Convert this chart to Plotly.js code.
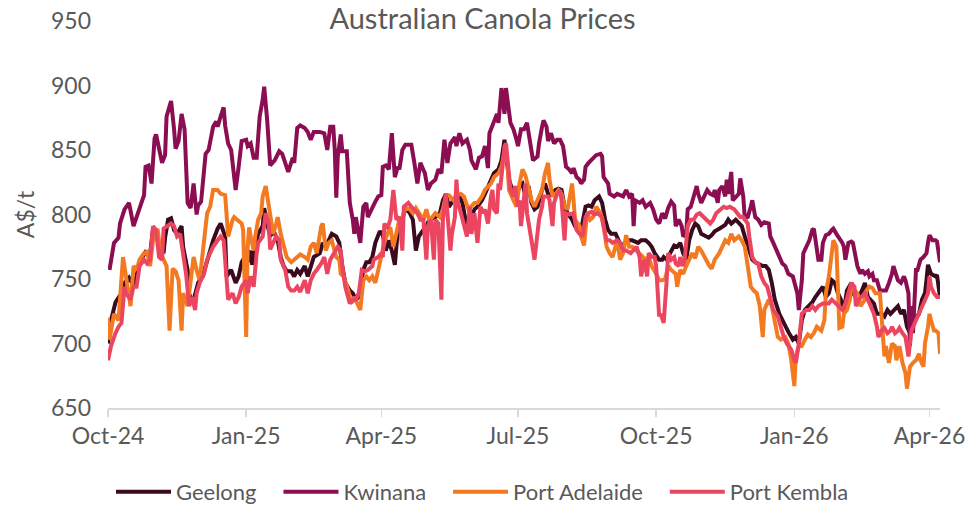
<!DOCTYPE html>
<html>
<head>
<meta charset="utf-8">
<script src="https://cdn.plot.ly/plotly-3.0.1.min.js"></script>
<style>html,body{margin:0;padding:0;background:#fff;}#chart{width:965px;height:505px;}</style>
</head>
<body>
<div id="chart"></div>
<script>
// Day offsets are days since 2024-10-01
const seriesNames = ["Geelong", "Kwinana", "Port Adelaide", "Port Kembla"];
const xTickLabels = ["Oct-24", "Jan-25", "Apr-25", "Jul-25", "Oct-25", "Jan-26", "Apr-26"];

const geelongDay = [0,2,5,7,9,11,14,17,19,21,25,28,30,33,35,37,38,40,42,44,46,49,50,53,54,56,58,60,63,65,67,70,73,75,78,79,82,85,87,89,92,93,95,96,98,100,103,104,106,108,110,113,115,117,119,122,124,126,128,131,133,135,137,141,143,145,147,149,152,154,156,158,161,163,165,167,170,172,174,176,178,181,183,185,187,189,191,193,196,198,201,203,205,207,210,212,214,216,218,221,223,225,227,230,232,234,236,238,240,242,244,246,249,251,253,255,257,260,262,264,266,267,270,272,274,276,277,280,282,284,286,289,291,293,295,298,300,302,304,306,309,311,313,315,318,320,322,324,327,329,331,333,335,338,340,342,344,346,349,351,353,355,358,360,362,364,367,369,370,372,374,377,379,381,383,385,387,389,391,393,395,398,400,402,404,407,409,411,413,415,418,420,422,424,427,429,431,433,436,438,440,442,444,447,449,451,453,456,458,460,462,464,467,469,471,473,476,478,480,482,484,486,488,490,492,495,496,498,500,502,504,506,508,510,512,515,517,519,521,524,526,528,530,532,534,535,538,540,542,544,545,546,548,551,552,554];
const geelongPrice = [700,718,732,736,739,747,751,745,752,763,771,769,789,780,775,770,782,796,797,788,785,791,775,757,739,731,738,747,752,760,770,780,789,793,783,752,757,747,752,763,769,763,772,761,775,785,791,805,793,783,788,780,767,760,756,756,752,757,754,760,752,760,767,770,778,775,780,785,783,778,760,747,741,739,734,736,757,763,763,767,778,787,784,772,780,772,761,788,796,805,801,796,772,783,788,791,796,797,798,801,811,816,806,811,814,814,809,796,791,798,804,806,811,816,822,827,832,835,842,858,840,827,816,814,822,824,819,822,809,804,806,819,824,816,815,819,820,819,806,801,796,791,788,788,806,807,806,811,814,809,796,788,785,785,780,775,778,780,780,779,778,780,780,778,775,770,765,765,767,765,770,776,775,778,770,765,780,788,793,791,785,783,782,784,787,789,791,792,796,793,796,793,791,783,772,765,763,762,760,760,757,747,734,723,718,713,709,703,705,700,718,726,729,732,736,739,744,736,739,749,747,739,734,726,741,747,739,736,736,741,747,736,734,731,723,723,721,726,723,726,729,723,726,713,708,716,720,723,734,739,749,761,754,752,753,736];

const kwinanaDay = [1,4,7,8,11,14,17,20,22,24,25,27,29,31,32,34,36,38,39,41,42,44,45,47,49,51,52,53,55,57,59,60,62,64,65,67,69,70,72,73,75,77,78,80,82,84,85,87,89,92,93,95,97,99,101,103,104,106,108,111,114,116,118,120,123,124,126,128,131,133,135,137,141,144,146,148,150,151,152,153,155,156,159,160,161,163,164,165,167,168,170,172,173,176,178,180,182,183,185,187,189,191,193,194,196,198,202,204,206,208,211,213,215,218,220,222,224,226,228,231,232,234,236,239,241,242,245,247,249,251,253,254,257,259,260,262,264,265,268,270,272,273,275,277,279,280,282,283,286,287,289,290,292,293,295,297,299,301,303,305,307,309,310,312,314,315,317,318,320,322,325,328,329,330,333,334,337,339,341,343,345,347,349,350,351,354,356,358,361,363,365,367,369,371,373,375,377,378,380,382,383,385,386,388,390,392,393,395,397,399,401,403,404,406,407,409,411,412,413,415,416,418,420,421,423,424,426,428,429,431,433,435,437,440,441,443,445,447,449,451,453,456,457,459,460,462,463,466,467,469,470,472,473,475,476,478,480,482,483,485,487,489,490,491,493,495,496,498,499,501,502,504,506,507,509,510,512,514,516,518,520,522,523,525,526,528,530,531,533,534,535,536,538,539,541,543,545,546,547,549,551,552,554];
const kwinanaPrice = [757,778,782,793,804,809,791,801,809,815,837,838,824,859,862,849,840,846,876,884,888,866,851,857,878,866,827,809,805,824,800,807,810,837,847,850,863,868,872,868,876,883,869,855,850,832,819,837,857,858,853,855,844,844,876,889,899,873,838,842,849,847,840,833,844,840,867,869,867,864,858,864,864,863,850,868,868,850,813,845,862,849,849,827,809,796,785,798,782,778,806,809,798,806,810,814,815,837,838,835,863,829,837,835,850,854,854,840,824,840,832,819,824,827,835,832,858,840,855,860,853,863,855,858,850,842,835,844,845,853,836,863,873,878,871,898,878,898,871,866,858,853,866,866,871,863,847,842,845,855,868,873,868,857,863,855,858,858,853,837,835,832,836,829,827,824,827,837,840,842,846,847,845,829,824,816,814,816,815,814,819,814,816,791,811,809,811,806,809,804,796,793,801,797,805,810,807,791,796,791,783,785,804,806,814,822,816,809,814,819,816,815,819,809,819,822,814,827,816,833,811,814,816,828,814,797,798,806,811,798,796,792,794,793,783,778,773,767,762,760,754,752,747,739,726,749,770,778,780,788,789,773,765,765,778,784,785,788,789,785,782,778,775,765,778,779,778,765,760,754,757,754,756,752,754,749,749,741,741,741,747,754,760,754,749,747,752,749,739,698,729,708,757,757,765,767,770,778,784,780,780,779,763];

const adelaideDay = [0,1,4,7,10,12,15,17,19,21,24,26,28,30,33,35,37,39,41,43,45,47,49,50,53,55,57,59,61,64,66,68,70,73,75,78,79,80,83,84,86,89,90,92,93,94,95,97,98,100,102,103,105,107,108,110,112,113,115,117,119,122,124,126,128,131,133,135,137,139,142,143,145,147,149,152,154,155,157,160,162,164,166,168,170,172,174,176,178,180,182,184,186,188,190,192,194,196,198,201,203,205,207,210,212,214,216,218,221,223,225,227,230,232,235,237,240,242,244,246,249,251,253,255,257,260,262,264,266,267,270,272,274,276,278,280,282,284,286,289,291,293,294,296,298,300,302,304,306,309,310,311,314,315,317,319,321,323,325,328,330,332,334,336,339,341,343,345,347,349,351,354,356,358,360,362,365,367,369,371,373,375,378,379,381,383,385,387,389,391,393,395,398,400,402,404,407,409,411,413,415,417,420,422,424,426,428,430,432,434,436,437,440,442,444,446,448,451,453,455,457,458,460,462,464,466,468,470,472,475,477,478,480,482,483,485,486,487,489,490,492,494,495,497,499,501,504,505,507,509,511,514,516,517,518,520,522,524,525,527,529,531,532,534,536,538,540,541,543,544,546,547,548,550,551,553,554];
const adelaidePrice = [720,703,723,718,767,752,729,760,757,765,770,771,760,780,789,770,765,760,710,758,756,749,710,739,729,749,767,757,749,780,801,806,819,819,816,815,796,783,796,798,796,793,788,705,775,790,783,772,783,796,801,814,822,806,796,785,793,798,785,775,767,763,765,767,769,767,765,775,778,770,791,793,772,778,780,767,765,754,752,741,731,736,731,726,749,752,749,752,747,757,770,778,785,790,775,785,796,798,805,804,801,805,801,796,804,795,798,801,798,804,815,815,811,815,816,814,804,806,809,809,814,819,822,824,829,832,837,849,840,819,811,806,824,835,830,819,811,806,811,819,832,840,827,814,816,819,816,806,804,824,811,796,791,783,776,801,796,798,806,801,791,775,770,767,780,765,770,784,775,775,773,770,767,765,767,760,754,749,749,750,760,757,754,744,757,754,760,765,770,766,775,772,765,761,758,765,770,775,780,778,785,780,783,780,775,760,744,741,739,729,705,726,734,729,718,705,703,705,700,687,667,690,698,698,703,707,705,708,713,710,718,739,752,775,780,775,749,712,713,723,726,734,744,741,739,729,734,741,744,743,739,739,708,690,698,685,700,698,687,698,685,677,665,682,685,687,692,687,682,700,713,723,718,710,710,708,692];

const kemblaDay = [0,2,5,7,9,11,12,15,17,19,21,24,26,28,30,32,34,36,37,39,42,44,46,48,50,52,54,56,58,59,61,64,66,68,70,73,75,77,79,80,83,85,87,89,92,93,95,97,99,100,103,105,107,108,110,112,114,115,118,120,122,124,126,128,131,133,135,137,139,142,144,146,148,151,153,155,156,158,161,163,165,167,169,171,173,176,177,180,182,183,184,186,188,190,192,194,196,197,200,202,204,206,208,210,212,213,215,217,218,220,222,223,225,226,228,229,231,232,233,235,237,239,241,242,244,246,248,250,251,253,255,256,257,259,260,261,262,264,265,266,268,270,271,273,274,275,277,278,279,281,282,284,285,287,289,290,293,294,296,297,299,301,302,304,305,307,310,312,314,316,318,320,322,324,326,329,330,332,334,336,339,341,343,345,348,350,352,354,355,357,359,360,362,364,365,367,368,370,371,372,373,375,377,378,380,381,383,384,386,388,390,392,394,397,399,401,403,405,408,410,412,414,417,419,421,423,426,427,429,431,433,435,437,439,441,443,446,448,450,452,453,455,457,458,460,461,462,465,467,469,471,473,476,478,480,482,485,487,489,491,493,495,497,498,500,502,504,506,508,510,512,513,515,517,519,521,522,524,526,527,529,531,533,534,535,538,540,542,544,546,547,548,550,552,554];
const kemblaPrice = [687,698,708,713,716,744,739,734,744,744,760,765,762,765,791,788,767,765,789,791,793,791,783,785,770,754,729,736,726,739,747,754,765,770,775,780,783,780,754,734,739,731,736,744,749,739,752,744,770,778,783,801,793,773,778,783,780,765,757,744,741,741,744,740,749,739,749,754,757,762,767,754,765,772,775,772,760,744,731,734,734,739,757,756,757,760,765,767,770,767,793,789,796,819,796,798,772,806,809,806,804,801,796,796,765,791,796,765,796,793,734,796,816,801,772,785,798,827,809,801,791,783,806,785,801,778,806,801,804,793,814,819,804,801,824,819,829,853,855,840,819,814,822,806,811,791,819,824,801,783,780,765,775,796,806,814,814,811,791,809,816,819,811,780,801,800,801,788,785,783,798,801,802,800,801,798,791,780,780,778,780,778,772,772,770,772,775,767,752,765,752,770,767,767,760,721,723,716,730,749,770,765,767,762,760,767,760,765,791,796,796,800,801,798,796,793,796,801,804,806,805,806,804,801,798,798,793,783,767,763,762,752,747,744,736,726,721,713,705,700,698,695,687,685,700,713,723,726,726,729,726,729,731,731,731,734,731,729,726,731,739,747,744,729,734,736,739,734,729,723,713,705,710,712,708,710,713,708,710,712,708,705,690,698,710,718,723,729,734,739,752,744,739,736,736];

const seriesColors = ["#3a0a1e", "#8b0d52", "#f47a22", "#ec4560"];

function toDate(d) {
  const t = new Date(Date.UTC(2024, 9, 1));
  t.setUTCDate(t.getUTCDate() + d);
  return t.toISOString().slice(0, 10);
}

const dayArrays = [geelongDay, kwinanaDay, adelaideDay, kemblaDay];
const priceArrays = [geelongPrice, kwinanaPrice, adelaidePrice, kemblaPrice];
const legendPad = "\u00a0\u00a0\u00a0";

const traces = seriesNames.map((name, i) => ({
  type: "scatter",
  mode: "lines",
  name: i < seriesNames.length - 1 ? name + legendPad : name,
  x: dayArrays[i].map(toDate),
  y: priceArrays[i],
  line: { color: seriesColors[i], width: 4 },
  hoverinfo: "x+y+name"
}));

const tickVals = ["2024-10-01", "2025-01-01", "2025-04-01", "2025-07-01", "2025-10-01", "2026-01-01", "2026-04-01"];

const fontFamily = "Lato, 'Open Sans', sans-serif";
const grey = "#595959";

const layout = {
  width: 965,
  height: 505,
  paper_bgcolor: "#ffffff",
  plot_bgcolor: "#ffffff",
  margin: { l: 108, r: 25, t: 21, b: 97 },
  font: { family: fontFamily, color: grey, size: 23 },
  title: {
    text: "Australian Canola Prices",
    font: { family: fontFamily, size: 29, color: grey },
    x: 0.5, xref: "container", xanchor: "center",
    y: 0.962, yref: "container", yanchor: "middle"
  },
  xaxis: {
    type: "date",
    range: ["2024-10-01", "2026-04-08"],
    tickvals: tickVals,
    ticktext: xTickLabels,
    showgrid: false,
    zeroline: false,
    showline: true,
    linecolor: "#d9d9d9",
    linewidth: 1.5,
    ticks: "outside",
    ticklen: 7,
    tickcolor: "#d9d9d9",
    tickwidth: 1.5,
    ticklabeloverflow: "allow",
    tickfont: { size: 23, color: grey, family: fontFamily },
    fixedrange: true
  },
  yaxis: {
    range: [650, 950],
    dtick: 50,
    tick0: 650,
    showgrid: false,
    zeroline: false,
    showline: false,
    ticks: "",
    ticklabelstandoff: 16,
    ticklabeloverflow: "allow",
    tickfont: { size: 23, color: grey, family: fontFamily },
    title: { text: "A$/t", font: { size: 23, color: grey, family: fontFamily }, standoff: 9 },
    fixedrange: true
  },
  showlegend: true,
  legend: {
    orientation: "h",
    xref: "container", yref: "container",
    x: 0.5, xanchor: "center",
    y: 0.026, yanchor: "middle",
    font: { size: 22, color: grey, family: fontFamily },
    itemwidth: 55,
    tracegroupgap: 0,
    bgcolor: "rgba(0,0,0,0)"
  }
};

Plotly.newPlot("chart", traces, layout, { displayModeBar: false, staticPlot: true });
</script>
</body>
</html>
